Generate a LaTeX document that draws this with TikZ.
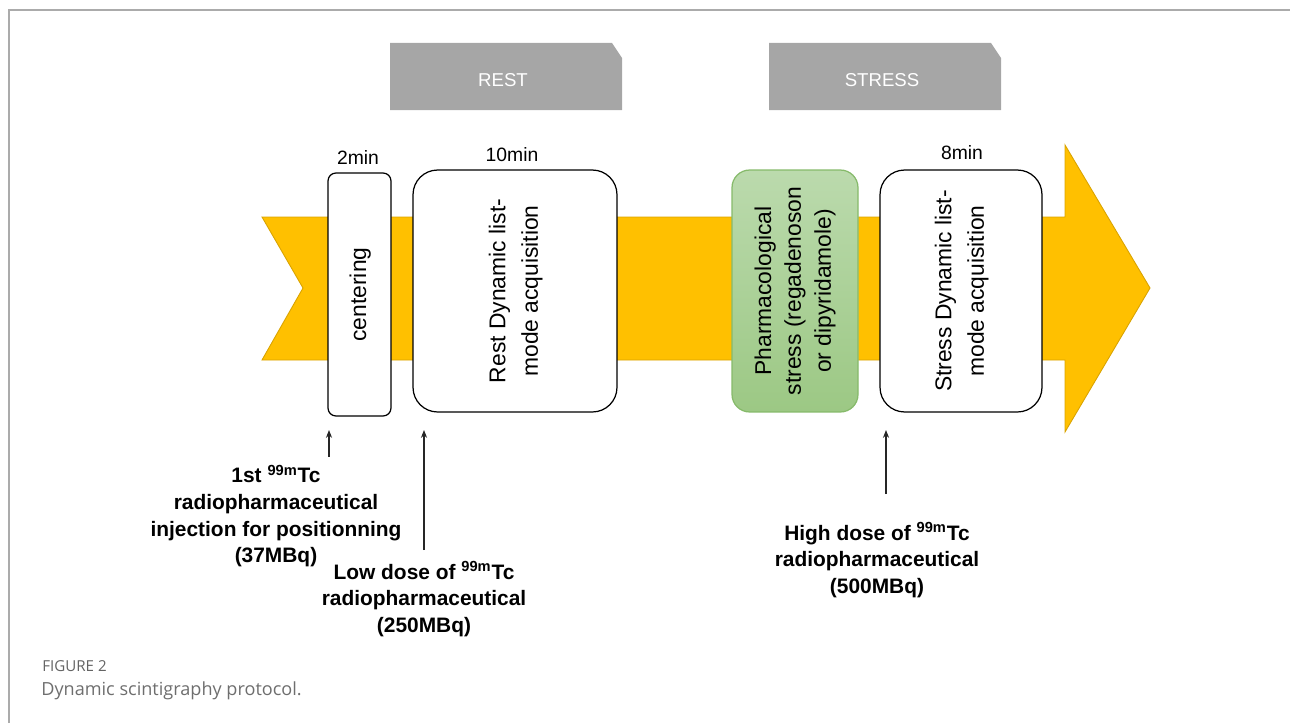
\documentclass[tikz,border=0pt]{standalone}
\usepackage{fontspec}
\setmainfont{Liberation Sans}
\newfontfamily\capfont{Open Sans}
\usetikzlibrary{arrows.meta}
\definecolor{bandgold}{HTML}{FFC000}
\definecolor{bandedge}{HTML}{D9A300}
\definecolor{phasegray}{HTML}{A6A6A6}
\definecolor{pharmtop}{HTML}{BBDAAD}
\definecolor{pharmbot}{HTML}{9CC884}
\definecolor{pharmedge}{HTML}{86BA6A}
\definecolor{framegray}{HTML}{ABABAB}
\definecolor{capgray}{HTML}{6E6E6E}
\newcommand{\vlabel}[1]{\rotatebox{90}{\begin{tabular}{@{}c@{}}#1\end{tabular}}}
\newcommand{\tcm}{\textsuperscript{99m}Tc}

\begin{document}
\begin{tikzpicture}[x=0.02cm, y=-0.02cm,
		scanbox/.style={draw=black, line width=0.7pt, fill=white, inner sep=0pt, font=\fontsize{13}{18.5}\selectfont},
		phase/.style={text=white, font=\fontsize{10.6}{12}\selectfont, inner sep=0pt},
		dose/.style={align=center, font=\fontsize{11.9}{15.1}\selectfont\bfseries, inner sep=0pt},
		duration/.style={font=\fontsize{11}{13}\selectfont, inner sep=0pt},
		pin/.style={-{Stealth[length=4.5pt, width=3.5pt]}, line width=0.6pt, draw=black!85}]
	\useasboundingbox (0,0) rectangle (1290,723);
	\draw[framegray, line width=1.1pt] (9,723) -- (9,10) -- (1290,10);
	
	\fill[bandgold, draw=bandedge, line width=0.5pt] (262,217) -- (1065,217) -- (1065,145) -- (1150,288)
		-- (1065,432) -- (1065,360) -- (262,360) -- (303,288) -- cycle;
	
	\fill[phasegray] (390,43) -- (612,43) -- (622,58) -- (622,110) -- (390,110) -- cycle;
	\fill[phasegray] (769,43) -- (991,43) -- (1001,58) -- (1001,110) -- (769,110) -- cycle;
	\node[phase] (rest) at (503,80) {REST};
	\node[phase] (stress) at (882,80) {STRESS};
	
	\node[scanbox, rounded corners=4.5pt, minimum width=1.26cm, minimum height=4.86cm] (cen) at (359.5,294.5) {\vlabel{centering}};
	\node[scanbox, rounded corners=14pt, minimum width=4.08cm, minimum height=4.84cm] (restacq) at (515,291) {\vlabel{Rest Dynamic list-\\mode acquisition}};
	\node[scanbox, draw=pharmedge, top color=pharmtop, bottom color=pharmbot, rounded corners=10pt, minimum width=2.52cm, minimum height=4.84cm,
		font=\fontsize{13}{17}\selectfont] (pharm) at (795,291) {\vlabel{Pharmacological\\stress (regadenoson\\or dipyridamole)}};
	\node[scanbox, rounded corners=14pt, minimum width=3.24cm, minimum height=4.84cm] (stressacq) at (961,291) {\vlabel{Stress Dynamic list-\\mode acquisition}};
	
	\node[duration] (t2) at (358,157) {2min};
	\node[duration] (t10) at (512,155) {10min};
	\node[duration] (t8) at (962,153) {8min};
	
	\node[dose] (inj1) at (276,516) {1st \tcm\\radiopharmaceutical\\injection for positionning\\(37MBq)};
	\node[dose] (inj2) at (424,599) {Low dose of \tcm\\radiopharmaceutical\\(250MBq)};
	\node[dose] (inj3) at (877,560) {High dose of \tcm\\radiopharmaceutical\\(500MBq)};
	
	\coordinate (p1) at (329,430);
	\coordinate (p2) at (424,430);
	\coordinate (p3) at (886,430);
	\draw[pin] ([yshift=0.16cm]inj1.north -| p1) -- (p1);
	\draw[pin] ([yshift=0.22cm]inj2.north -| p2) -- (p2);
	\draw[pin] ([yshift=0.56cm]inj3.north -| p3) -- (p3);
	
	\node[anchor=base west, font=\capfont\fontsize{8.6}{10}\selectfont, text=capgray!90!black, inner sep=0pt] (figno) at (42,671) {FIGURE 2};
	\node[anchor=base west, font=\capfont\fontsize{10.3}{12}\selectfont, text=capgray, inner sep=0pt] (caption) at (41,695) {Dynamic scintigraphy protocol.};
\end{tikzpicture}
\end{document}
